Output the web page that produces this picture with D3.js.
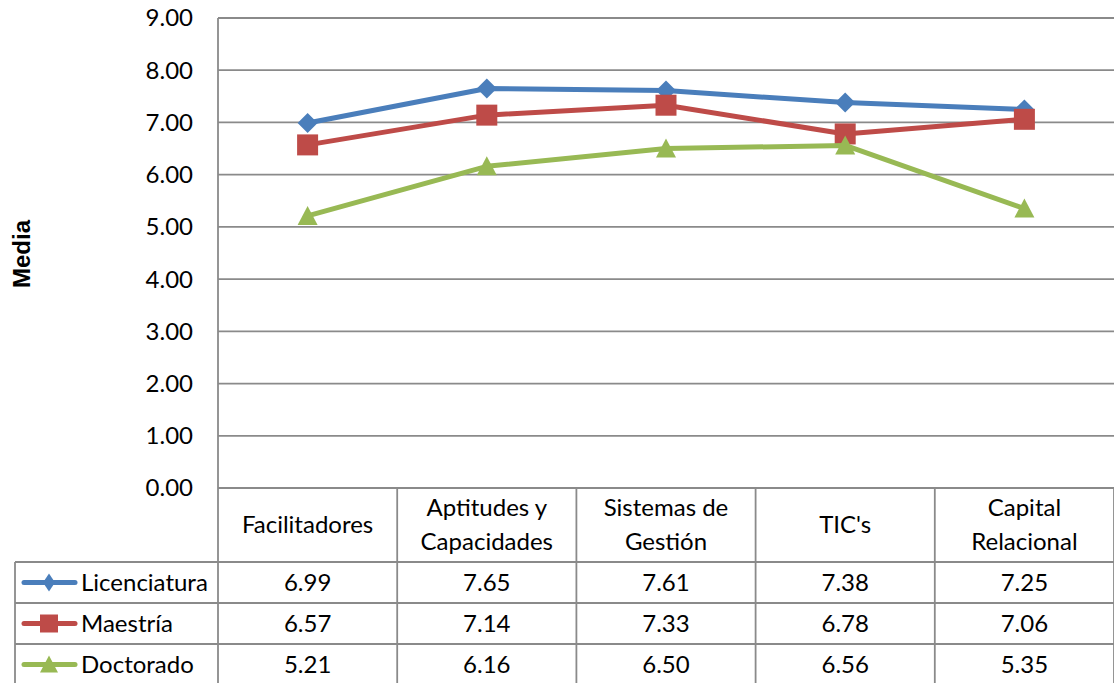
<!DOCTYPE html>
<html lang="es">
<head>
    <meta charset="UTF-8">
    <title>Media por nivel</title>
    <style>
        body { margin: 0; background: #fff; }
        text { font-family: Lato, "Open Sans", sans-serif; fill: #000; font-size: 24px; }
        .grid line, .tbl line { stroke: #8a8a8a; stroke-width: 1.8; }
    </style>
</head>
<body>
    <script src="https://d3js.org/d3.v7.min.js"></script>
    <script>
        const categories = [["Facilitadores"], ["Aptitudes y", "Capacidades"], ["Sistemas de", "Gestión"], ["TIC's"], ["Capital", "Relacional"]];
        const seriesNames = ["Licenciatura", "Maestría", "Doctorado"];
        const licenciatura = [6.99, 7.65, 7.61, 7.38, 7.25];
        const maestria = [6.57, 7.14, 7.33, 6.78, 7.06];
        const doctorado = [5.21, 6.16, 6.50, 6.56, 5.35];
        const yTicks = [0, 1, 2, 3, 4, 5, 6, 7, 8, 9];

        const colors = ["#4a7ebb", "#be4b48", "#98b954"];
        const series = [licenciatura, maestria, doctorado];

        const width = 1114, height = 683;
        const plotLeft = 218, plotRight = 1114, plotTop = 18, plotBottom = 488;
        const tableLeft = 15, headerBottom = 562, rowH = 41;

        // excel-ish marker shapes, w = width of marker
        function marker(s, w) {
            const h = w / 2;
            if (s === 0) return `M0,${-h}L${h},0L0,${h}L${-h},0Z`;
            if (s === 1) return `M${-h},${-h}H${h}V${h}H${-h}Z`;
            return `M0,${-h}L${h},${h * 0.9}L${-h},${h * 0.9}Z`;
        }
        function legendMarker(s) {
            if (s === 0) return "M0,-9L6,0L0,9L-6,0Z";
            if (s === 1) return "M-9,-9H9V9H-9Z";
            return "M0,-9L9,8L-9,8Z";
        }

        const svg = d3.select("body").append("svg")
            .attr("width", width).attr("height", height);

        const x = d3.scaleBand().domain(d3.range(categories.length)).range([plotLeft, plotRight]);
        const y = d3.scaleLinear().domain([0, 9]).range([plotBottom, plotTop]);

        // gridlines
        svg.append("g").attr("class", "grid")
            .selectAll("line").data(yTicks).enter().append("line")
            .attr("x1", plotLeft).attr("x2", plotRight)
            .attr("y1", d => y(d)).attr("y2", d => y(d));

        // y tick labels
        svg.append("g").selectAll("text").data(yTicks).enter().append("text")
            .attr("x", 193).attr("y", d => y(d)).attr("dy", "0.35em")
            .attr("text-anchor", "end")
            .text(d => d.toFixed(2));

        svg.append("text")
            .attr("transform", "translate(30,254) rotate(-90)")
            .attr("text-anchor", "middle")
            .style("font-family", "'Liberation Sans', Arial, sans-serif")
            .style("font-weight", "bold")
            .text("Media");

        // table lines
        const tbl = svg.append("g").attr("class", "tbl");
        tbl.append("line").attr("x1", plotLeft).attr("x2", plotLeft).attr("y1", plotTop).attr("y2", height);
        x.domain().forEach(i => {
            tbl.append("line").attr("x1", x(i) + x.bandwidth()).attr("x2", x(i) + x.bandwidth())
                .attr("y1", plotBottom).attr("y2", height);
        });
        tbl.append("line").attr("x1", tableLeft).attr("x2", tableLeft).attr("y1", headerBottom).attr("y2", height);
        [0, 1, 2].forEach(r => {
            tbl.append("line").attr("x1", tableLeft).attr("x2", plotRight)
                .attr("y1", headerBottom + r * rowH).attr("y2", headerBottom + r * rowH);
        });

        // header labels
        categories.forEach((lines, i) => {
            const cx = x(i) + x.bandwidth() / 2;
            const cy = (plotBottom + headerBottom) / 2;
            const t = svg.append("text").attr("text-anchor", "middle");
            lines.forEach((ln, k) => {
                t.append("tspan").attr("x", cx)
                    .attr("y", cy + (k - (lines.length - 1) / 2) * 34)
                    .attr("dy", "0.35em").text(ln);
            });
        });

        // series lines and markers
        const line = d3.line().x((d, i) => x(i) + x.bandwidth() / 2).y(d => y(d));
        series.forEach((vals, s) => {
            svg.append("path").datum(vals)
                .attr("d", line).attr("fill", "none")
                .attr("stroke", colors[s]).attr("stroke-width", 5)
                .attr("stroke-linejoin", "round");
            svg.append("g").selectAll("path").data(vals).enter().append("path")
                .attr("transform", (d, i) => `translate(${x(i) + x.bandwidth() / 2},${y(d)})`)
                .attr("d", marker(s, s === 1 ? 21 : 20))
                .attr("fill", colors[s]);
        });

        // table rows
        series.forEach((vals, s) => {
            const cy = headerBottom + s * rowH + rowH / 2;
            svg.append("line").attr("x1", 24).attr("x2", 75).attr("y1", cy).attr("y2", cy)
                .attr("stroke", colors[s]).attr("stroke-width", 5).attr("stroke-linecap", "round");
            svg.append("path").attr("transform", `translate(49,${cy})`)
                .attr("d", legendMarker(s))
                .attr("fill", colors[s]);
            svg.append("text").attr("x", 81).attr("y", cy).attr("dy", "0.35em")
                .text(seriesNames[s]);
            svg.append("g").selectAll("text").data(vals).enter().append("text")
                .attr("x", (d, i) => x(i) + x.bandwidth() / 2).attr("y", cy).attr("dy", "0.35em")
                .attr("text-anchor", "middle")
                .text(d => d.toFixed(2));
        });
    </script>
</body>
</html>
